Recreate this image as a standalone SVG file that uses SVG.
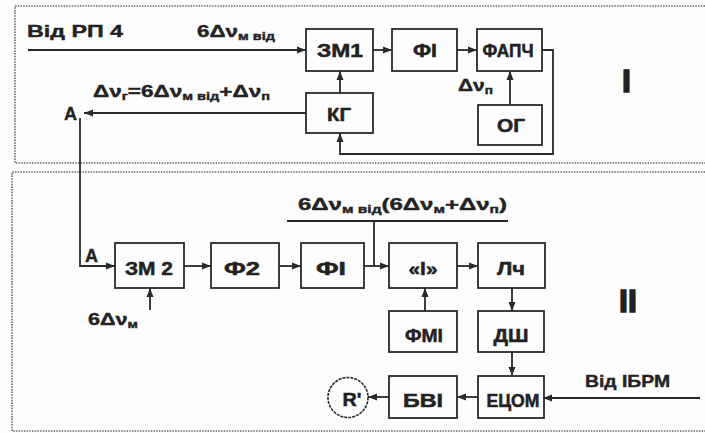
<svg xmlns="http://www.w3.org/2000/svg" width="705" height="433" viewBox="0 0 705 433">
<defs>
<marker id="ah" markerUnits="userSpaceOnUse" markerWidth="10" markerHeight="8" refX="9" refY="4" orient="auto">
<path d="M0,0.5 L9,4 L0,7.5 z" fill="#2a2a2a"/>
</marker>
<style>
.bx{fill:none;stroke:#2a2a2a;stroke-width:1.8}
.lb{font-family:"Liberation Sans",Arial,sans-serif;font-weight:bold;font-size:18px;fill:#222;stroke:#222;stroke-width:0.5;text-anchor:middle}
.tx{font-family:"Liberation Sans",Arial,sans-serif;font-weight:bold;font-size:17px;fill:#222;stroke:#222;stroke-width:0.4}
.sb{font-size:11px}
.ln{fill:none;stroke:#2a2a2a;stroke-width:1.8}
.ar{fill:none;stroke:#2a2a2a;stroke-width:1.8;marker-end:url(#ah)}
.fr{fill:none;stroke:#666;stroke-width:1.6;stroke-dasharray:1.5 1.2}
</style>
</defs>
<rect width="705" height="433" fill="#fdfdfd"/>
<g id="frames">
<path class="fr" d="M705,6 H15 V163 H705"/>
<path class="fr" d="M705,172 H12 V431 H705"/>
</g>
<g id="connectors">
<path class="ar" d="M28,50 H306"/>
<path class="ar" d="M373,50 H392"/>
<path class="ar" d="M457,50 H477"/>
<path class="ar" d="M542,50 H553 V154 H340 V133"/>
<path class="ar" d="M340,93 V71"/>
<path class="ar" d="M510,105 V71"/>
<path class="ar" d="M306,113 H84"/>
<path class="ar" d="M80,118 V266 H115"/>
<path class="ar" d="M184,266 H211"/>
<path class="ar" d="M279,266 H301"/>
<path class="ar" d="M364,266 H389"/>
<path class="ln" d="M287,221 H508 M374,221 V266"/>
<path class="ar" d="M457,266 H478"/>
<path class="ar" d="M150,310 V288"/>
<path class="ar" d="M425,311 V288"/>
<path class="ar" d="M512,288 V311"/>
<path class="ar" d="M512,352 V376"/>
<path class="ar" d="M700,398 H543"/>
<path class="ar" d="M478,397 H457"/>
<path class="ar" d="M389,397 H368"/>
</g>
<g id="n-zm1"><rect class="bx" x="306" y="29" width="67" height="42"/><text class="lb" x="340" y="57" textLength="46" lengthAdjust="spacingAndGlyphs">ЗМ1</text></g>
<g id="n-fi1"><rect class="bx" x="392" y="29" width="65" height="42"/><text class="lb" x="425" y="57" textLength="24" lengthAdjust="spacingAndGlyphs">ФІ</text></g>
<g id="n-fapch"><rect class="bx" x="477" y="29" width="65" height="42"/><text class="lb" x="508" y="57" textLength="51" lengthAdjust="spacingAndGlyphs">ФАПЧ</text></g>
<g id="n-kg"><rect class="bx" x="306" y="93" width="67" height="40"/><text class="lb" x="339" y="121" textLength="24" lengthAdjust="spacingAndGlyphs">КГ</text></g>
<g id="n-og"><rect class="bx" x="478" y="105" width="64" height="40"/><text class="lb" x="511" y="132" textLength="28" lengthAdjust="spacingAndGlyphs">ОГ</text></g>
<g id="n-zm2"><rect class="bx" x="115" y="243" width="69" height="45"/><text class="lb" x="149" y="275" textLength="48" lengthAdjust="spacingAndGlyphs">ЗМ 2</text></g>
<g id="n-f2"><rect class="bx" x="211" y="243" width="68" height="45"/><text class="lb" x="242" y="275" textLength="36" lengthAdjust="spacingAndGlyphs">Ф2</text></g>
<g id="n-fi2"><rect class="bx" x="301" y="243" width="63" height="45"/><text class="lb" x="331" y="275" textLength="30" lengthAdjust="spacingAndGlyphs">ФІ</text></g>
<g id="n-i"><rect class="bx" x="389" y="243" width="68" height="45"/><text class="lb" x="423" y="275" textLength="29" lengthAdjust="spacingAndGlyphs">«І»</text></g>
<g id="n-lch"><rect class="bx" x="478" y="243" width="67" height="45"/><text class="lb" x="511" y="275" textLength="28" lengthAdjust="spacingAndGlyphs">Лч</text></g>
<g id="n-fmi"><rect class="bx" x="389" y="311" width="68" height="41"/><text class="lb" x="424" y="342" textLength="38" lengthAdjust="spacingAndGlyphs">ФМІ</text></g>
<g id="n-dsh"><rect class="bx" x="478" y="311" width="66" height="41"/><text class="lb" x="511" y="342" textLength="35" lengthAdjust="spacingAndGlyphs">ДШ</text></g>
<g id="n-etsom"><rect class="bx" x="478" y="376" width="66" height="42"/><text class="lb" x="513" y="407" textLength="53" lengthAdjust="spacingAndGlyphs">ЕЦОМ</text></g>
<g id="n-bvi"><rect class="bx" x="389" y="376" width="68" height="42"/><text class="lb" x="423" y="407" textLength="40" lengthAdjust="spacingAndGlyphs">БВІ</text></g>
<g id="n-r"><circle cx="348" cy="397.5" r="20" fill="none" stroke="#2a2a2a" stroke-width="1.6" stroke-dasharray="3 1"/><text class="lb" x="352" y="406" textLength="19" lengthAdjust="spacingAndGlyphs">R'</text></g>
<g id="labels">
<text class="tx" x="27" y="37" textLength="96" lengthAdjust="spacingAndGlyphs">Від РП 4</text>
<text class="tx" x="197" y="37" textLength="78" lengthAdjust="spacingAndGlyphs">6Δν<tspan class="sb" dy="3">м від</tspan></text>
<text class="tx" x="93" y="97" textLength="177" lengthAdjust="spacingAndGlyphs">Δν<tspan class="sb" dy="3">г</tspan><tspan dy="-3">=6Δν</tspan><tspan class="sb" dy="3">м від</tspan><tspan dy="-3">+Δν</tspan><tspan class="sb" dy="3">п</tspan></text>
<text class="tx" x="458" y="91" textLength="35" lengthAdjust="spacingAndGlyphs">Δν<tspan class="sb" dy="3">п</tspan></text>
<text class="tx" x="64" y="120" style="font-size:18px">A</text>
<text class="tx" x="85" y="262" style="font-size:18px">A</text>
<text class="tx" x="298" y="210" textLength="209" lengthAdjust="spacingAndGlyphs">6Δν<tspan class="sb" dy="3">м від</tspan><tspan dy="-3">(6Δν</tspan><tspan class="sb" dy="3">м</tspan><tspan dy="-3">+Δν</tspan><tspan class="sb" dy="3">п</tspan><tspan dy="-3">)</tspan></text>
<text class="tx" x="88" y="325" textLength="50" lengthAdjust="spacingAndGlyphs">6Δν<tspan class="sb" dy="3">м</tspan></text>
<text class="tx" x="585" y="387" textLength="85" lengthAdjust="spacingAndGlyphs">Від ІБРМ</text>
<text class="tx" x="622" y="92" style="font-size:32px;stroke-width:1.5">I</text>
<text class="tx" x="619" y="312" style="font-size:32px;stroke-width:1.5">II</text>
</g>
</svg>
